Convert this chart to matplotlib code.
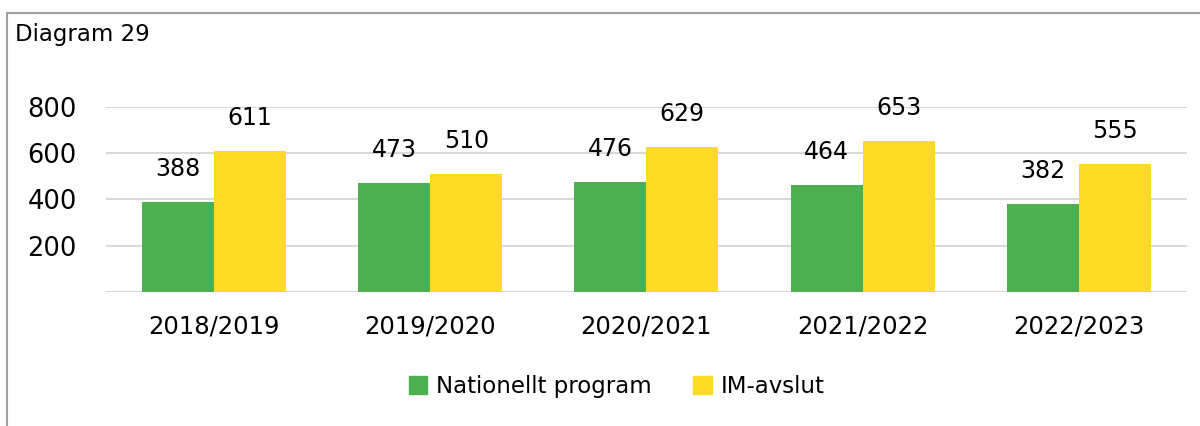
import matplotlib.pyplot as plt
from matplotlib.patches import Rectangle, Patch
import numpy as np

plt.rcParams['font.family'] = ['DejaVu Sans']

years = ['2018/2019', '2019/2020', '2020/2021', '2021/2022', '2022/2023']
nationellt = [388, 473, 476, 464, 382]
im_avslut = [611, 510, 629, 653, 555]
series_names = ['Nationellt program', 'IM-avslut']

green = '#4CAF50'
yellow = '#FDDA24'

fig = plt.figure(figsize=(12, 4.26), dpi=100)
ax = fig.add_axes([0.0883, 0.3146, 0.9007, 0.4343])

x = np.arange(len(years))
w = 0.333
b1 = ax.bar(x - w / 2, nationellt, w, color=green, zorder=3)
b2 = ax.bar(x + w / 2, im_avslut, w, color=yellow, zorder=3)

# value labels above each bar
for bars, vals in ((b1, nationellt), (b2, im_avslut)):
    for rect, v in zip(bars, vals):
        ax.annotate(str(v), (rect.get_x() + rect.get_width() / 2, v),
                    xytext=(0, 15), textcoords='offset points',
                    ha='center', va='bottom', fontsize=17, clip_on=False)

ax.set_xlim(-0.5, len(years) - 0.5)
ax.set_ylim(0, 800)
ax.set_yticks([200, 400, 600, 800])
ax.set_xticks(x)
ax.set_xticklabels(years)
ax.yaxis.grid(True, color='#D9D9D9', linewidth=1.5, zorder=0)
ax.axhline(0, color='#D9D9D9', linewidth=1.5, zorder=1)
for s in ax.spines.values():
    s.set_visible(False)
ax.tick_params(axis='both', length=0, labelsize=17.5)
ax.tick_params(axis='y', pad=21, labelsize=18.5)
ax.tick_params(axis='x', pad=16)

fig.text(0.0125, 0.918, 'Diagram 29', fontsize=16.5, va='center', ha='left')

handles = [Patch(color=green), Patch(color=yellow)]
fig.legend(handles, series_names, loc='center', bbox_to_anchor=(0.514, 0.093),
           ncol=2, frameon=False, fontsize=16.5, handlelength=0.8, handleheight=0.8,
           handletextpad=0.4, columnspacing=1.8)

# outer frame, open to the right and bottom
fig.add_artist(Rectangle((7 / 1200, -0.1), 1.2, 1.1 - 13 / 426,
                         transform=fig.transFigure, fill=False,
                         edgecolor='#A0A0A0', linewidth=1.5))

fig.savefig('out.png', dpi=100)
